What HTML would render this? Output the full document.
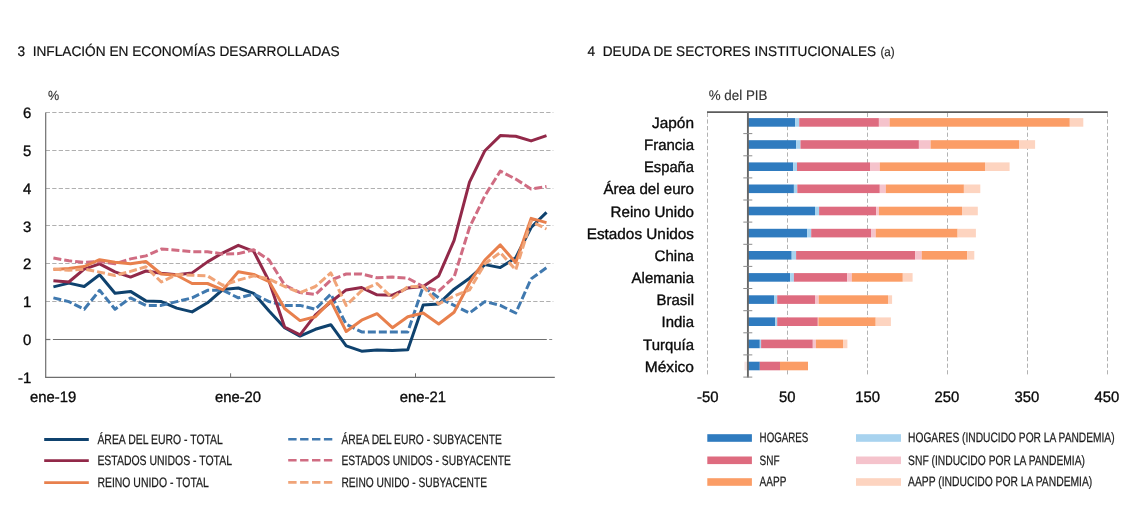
<!DOCTYPE html>
<html lang="es"><head><meta charset="utf-8"><title>Gráficos</title>
<style>
html,body{margin:0;padding:0;background:#fff;}
body{width:1143px;height:528px;overflow:hidden;font-family:"Liberation Sans",sans-serif;}
svg{display:block;will-change:transform;}
text{text-rendering:geometricPrecision;}
</style></head><body>
<svg width="1143" height="528" viewBox="0 0 1143 528" font-family="Liberation Sans, sans-serif">
<rect width="1143" height="528" fill="#fff"/>
<text x="17.5" y="56.3" font-size="14" fill="#111" stroke="#111" stroke-width="0.2" textLength="322" lengthAdjust="spacingAndGlyphs" xml:space="preserve">3  INFLACIÓN EN ECONOMÍAS DESARROLLADAS</text>
<text x="587.6" y="56.3" font-size="14" fill="#111" stroke="#111" stroke-width="0.2" textLength="288.6" lengthAdjust="spacingAndGlyphs" xml:space="preserve">4  DEUDA DE SECTORES INSTITUCIONALES</text>
<text x="880.5" y="56.3" font-size="12.6" fill="#222" stroke="#222" stroke-width="0.15" textLength="14.2" lengthAdjust="spacingAndGlyphs">(a)</text>
<text x="48" y="100.4" font-size="13.2" fill="#333" stroke="#333" stroke-width="0.15" textLength="11.2" lengthAdjust="spacingAndGlyphs">%</text>
<line x1="45.7" x2="553.3" y1="112.5" y2="112.5" stroke="#b0b0b0" stroke-width="1" stroke-dasharray="4.3 2.2"/>
<line x1="45.7" x2="553.3" y1="150.5" y2="150.5" stroke="#b0b0b0" stroke-width="1" stroke-dasharray="4.3 2.2"/>
<line x1="45.7" x2="553.3" y1="188.5" y2="188.5" stroke="#b0b0b0" stroke-width="1" stroke-dasharray="4.3 2.2"/>
<line x1="45.7" x2="553.3" y1="225.5" y2="225.5" stroke="#b0b0b0" stroke-width="1" stroke-dasharray="4.3 2.2"/>
<line x1="45.7" x2="553.3" y1="263.5" y2="263.5" stroke="#b0b0b0" stroke-width="1" stroke-dasharray="4.3 2.2"/>
<line x1="45.7" x2="553.3" y1="301.5" y2="301.5" stroke="#b0b0b0" stroke-width="1" stroke-dasharray="4.3 2.2"/>
<line x1="45.7" x2="50.4" y1="339.5" y2="339.5" stroke="#707070" stroke-width="1.2"/>
<line x1="52.9" x2="546.8" y1="339.5" y2="339.5" stroke="#707070" stroke-width="1.2"/>
<line x1="549.2" x2="552.2" y1="339.5" y2="339.5" stroke="#8a8a8a" stroke-width="1"/>
<line x1="45.7" x2="45.7" y1="112.5" y2="377.3" stroke="#6e6e6e" stroke-width="1.2"/>
<line x1="45.1" x2="554.8" y1="377.3" y2="377.3" stroke="#6e6e6e" stroke-width="1.2"/>
<line x1="230.6" x2="230.6" y1="373.3" y2="377.3" stroke="#6e6e6e" stroke-width="1"/>
<line x1="415.5" x2="415.5" y1="373.3" y2="377.3" stroke="#6e6e6e" stroke-width="1"/>
<text x="23.0" y="118.0" font-size="15.15" fill="#0a0a0a" stroke="#0a0a0a" stroke-width="0.35" textLength="8.3" lengthAdjust="spacingAndGlyphs">6</text>
<text x="23.0" y="155.8" font-size="15.15" fill="#0a0a0a" stroke="#0a0a0a" stroke-width="0.35" textLength="8.3" lengthAdjust="spacingAndGlyphs">5</text>
<text x="23.0" y="193.7" font-size="15.15" fill="#0a0a0a" stroke="#0a0a0a" stroke-width="0.35" textLength="8.3" lengthAdjust="spacingAndGlyphs">4</text>
<text x="23.0" y="231.5" font-size="15.15" fill="#0a0a0a" stroke="#0a0a0a" stroke-width="0.35" textLength="8.3" lengthAdjust="spacingAndGlyphs">3</text>
<text x="23.0" y="269.3" font-size="15.15" fill="#0a0a0a" stroke="#0a0a0a" stroke-width="0.35" textLength="8.3" lengthAdjust="spacingAndGlyphs">2</text>
<text x="23.0" y="307.1" font-size="15.15" fill="#0a0a0a" stroke="#0a0a0a" stroke-width="0.35" textLength="8.3" lengthAdjust="spacingAndGlyphs">1</text>
<text x="23.0" y="345.0" font-size="15.15" fill="#0a0a0a" stroke="#0a0a0a" stroke-width="0.35" textLength="8.3" lengthAdjust="spacingAndGlyphs">0</text>
<text x="18.1" y="382.8" font-size="15.15" fill="#0a0a0a" stroke="#0a0a0a" stroke-width="0.35" textLength="13.2" lengthAdjust="spacingAndGlyphs">-1</text>
<text x="30.0" y="401.8" font-size="15.15" fill="#0a0a0a" stroke="#0a0a0a" stroke-width="0.35" textLength="46.2" lengthAdjust="spacingAndGlyphs">ene-19</text>
<text x="214.9" y="401.8" font-size="15.15" fill="#0a0a0a" stroke="#0a0a0a" stroke-width="0.35" textLength="46.2" lengthAdjust="spacingAndGlyphs">ene-20</text>
<text x="399.8" y="401.8" font-size="15.15" fill="#0a0a0a" stroke="#0a0a0a" stroke-width="0.35" textLength="46.2" lengthAdjust="spacingAndGlyphs">ene-21</text>
<path d="M53.4,286.9 L68.8,283.1 L84.2,286.5 L99.6,274.8 L115.0,293.3 L130.5,291.4 L145.9,300.9 L161.3,301.6 L176.7,308.1 L192.1,311.9 L207.5,302.8 L222.9,289.5 L238.3,288.0 L253.7,293.3 L269.1,311.1 L284.6,327.7 L300.0,336.1 L315.4,329.3 L330.8,324.7 L346.2,345.9 L361.6,351.2 L377.0,350.1 L392.4,350.4 L407.8,349.7 L423.2,305.0 L438.7,303.9 L454.1,289.2 L469.5,278.2 L484.9,264.6 L500.3,267.6 L515.7,257.8 L531.1,227.5 L546.5,212.4" fill="none" stroke="#0F426E" stroke-width="3" stroke-linejoin="round" stroke-linecap="butt"/>
<path d="M53.4,297.9 L68.8,301.6 L84.2,309.2 L99.6,290.3 L115.0,309.2 L130.5,297.9 L145.9,305.4 L161.3,305.4 L176.7,301.6 L192.1,297.9 L207.5,290.3 L222.9,290.3 L238.3,297.9 L253.7,294.1 L269.1,301.6 L284.6,305.4 L300.0,305.4 L315.4,309.2 L330.8,294.1 L346.2,324.3 L361.6,331.9 L377.0,331.9 L392.4,331.9 L407.8,331.9 L423.2,286.5 L438.7,297.9 L454.1,305.4 L469.5,313.0 L484.9,301.6 L500.3,305.4 L515.7,313.0 L531.1,278.9 L546.5,267.6" fill="none" stroke="#4079AF" stroke-width="3" stroke-linejoin="round" stroke-linecap="butt" stroke-dasharray="8 3"/>
<path d="M53.4,280.8 L68.8,282.0 L84.2,269.1 L99.6,263.8 L115.0,271.8 L130.5,277.1 L145.9,271.0 L161.3,273.3 L176.7,274.8 L192.1,272.9 L207.5,261.9 L222.9,252.8 L238.3,245.3 L253.7,251.3 L269.1,281.2 L284.6,327.0 L300.0,334.9 L315.4,314.9 L330.8,302.0 L346.2,289.9 L361.6,287.6 L377.0,294.8 L392.4,295.2 L407.8,288.0 L423.2,286.5 L438.7,275.9 L454.1,240.4 L469.5,182.1 L484.9,150.7 L500.3,135.6 L515.7,136.3 L531.1,140.9 L546.5,135.6" fill="none" stroke="#922949" stroke-width="3" stroke-linejoin="round" stroke-linecap="butt"/>
<path d="M53.4,258.1 L68.8,260.8 L84.2,262.3 L99.6,261.5 L115.0,263.8 L130.5,258.9 L145.9,255.9 L161.3,249.1 L176.7,250.2 L192.1,251.7 L207.5,251.7 L222.9,254.0 L238.3,253.6 L253.7,249.8 L269.1,260.0 L284.6,285.0 L300.0,292.6 L315.4,294.5 L330.8,280.1 L346.2,274.0 L361.6,274.0 L377.0,277.8 L392.4,277.1 L407.8,278.2 L423.2,286.5 L438.7,291.1 L454.1,277.1 L469.5,227.5 L484.9,195.7 L500.3,171.1 L515.7,179.1 L531.1,188.9 L546.5,186.6" fill="none" stroke="#D06C82" stroke-width="3" stroke-linejoin="round" stroke-linecap="butt" stroke-dasharray="8 3"/>
<path d="M53.4,269.5 L68.8,268.4 L84.2,266.5 L99.6,259.7 L115.0,262.3 L130.5,263.8 L145.9,261.5 L161.3,274.0 L176.7,275.2 L192.1,283.5 L207.5,283.5 L222.9,289.9 L238.3,271.8 L253.7,274.4 L269.1,281.6 L284.6,308.5 L300.0,320.6 L315.4,316.8 L330.8,300.9 L346.2,331.5 L361.6,320.2 L377.0,313.7 L392.4,327.7 L407.8,316.8 L423.2,313.0 L438.7,324.0 L454.1,312.2 L469.5,282.7 L484.9,260.0 L500.3,244.9 L515.7,262.7 L531.1,218.4 L546.5,222.6" fill="none" stroke="#E8804D" stroke-width="3" stroke-linejoin="round" stroke-linecap="butt"/>
<path d="M53.4,269.1 L68.8,270.2 L84.2,269.1 L99.6,272.1 L115.0,275.5 L130.5,271.4 L145.9,266.8 L161.3,282.0 L176.7,274.4 L192.1,275.2 L207.5,275.9 L222.9,285.4 L238.3,280.1 L253.7,275.9 L269.1,278.9 L284.6,286.5 L300.0,292.6 L315.4,286.5 L330.8,272.9 L346.2,305.4 L361.6,290.7 L377.0,283.5 L392.4,297.9 L407.8,286.9 L423.2,286.5 L438.7,303.9 L454.1,296.0 L469.5,289.9 L484.9,263.8 L500.3,252.5 L515.7,269.9 L531.1,221.4 L546.5,229.0" fill="none" stroke="#F0A478" stroke-width="3" stroke-linejoin="round" stroke-linecap="butt" stroke-dasharray="8 3"/>
<line x1="44.2" x2="88.8" y1="439.5" y2="439.5" stroke="#0F426E" stroke-width="2.8"/>
<text x="97.4" y="443.8" font-size="13.6" fill="#1c1c1c" stroke="#1c1c1c" stroke-width="0.25" textLength="125.5" lengthAdjust="spacingAndGlyphs">ÁREA DEL EURO - TOTAL</text>
<line x1="44.2" x2="88.8" y1="460.6" y2="460.6" stroke="#922949" stroke-width="2.8"/>
<text x="97.4" y="465.4" font-size="13.6" fill="#1c1c1c" stroke="#1c1c1c" stroke-width="0.25" textLength="134.6" lengthAdjust="spacingAndGlyphs">ESTADOS UNIDOS - TOTAL</text>
<line x1="44.2" x2="88.8" y1="482.7" y2="482.7" stroke="#E8804D" stroke-width="2.8"/>
<text x="97.4" y="487.0" font-size="13.6" fill="#1c1c1c" stroke="#1c1c1c" stroke-width="0.25" textLength="111.4" lengthAdjust="spacingAndGlyphs">REINO UNIDO - TOTAL</text>
<line x1="288.2" x2="333" y1="439.2" y2="439.2" stroke="#4079AF" stroke-width="2.6" stroke-dasharray="8.4 3.5"/>
<text x="341.4" y="443.8" font-size="13.6" fill="#1c1c1c" stroke="#1c1c1c" stroke-width="0.25" textLength="160.4" lengthAdjust="spacingAndGlyphs">ÁREA DEL EURO - SUBYACENTE</text>
<line x1="288.2" x2="333" y1="460.3" y2="460.3" stroke="#D06C82" stroke-width="2.6" stroke-dasharray="8.4 3.5"/>
<text x="341.4" y="465.4" font-size="13.6" fill="#1c1c1c" stroke="#1c1c1c" stroke-width="0.25" textLength="169.5" lengthAdjust="spacingAndGlyphs">ESTADOS UNIDOS - SUBYACENTE</text>
<line x1="288.2" x2="333" y1="482.4" y2="482.4" stroke="#F0A478" stroke-width="2.6" stroke-dasharray="8.4 3.5"/>
<text x="341.4" y="487.0" font-size="13.6" fill="#1c1c1c" stroke="#1c1c1c" stroke-width="0.25" textLength="145.6" lengthAdjust="spacingAndGlyphs">REINO UNIDO - SUBYACENTE</text>
<text x="708.8" y="100.3" font-size="14" fill="#333" stroke="#333" stroke-width="0.15" textLength="58.6" lengthAdjust="spacingAndGlyphs">% del PIB</text>
<line x1="707.5" x2="707.5" y1="112.8" y2="376.8" stroke="#b2b2b2" stroke-width="1" stroke-dasharray="4.2 2.4"/>
<line x1="787.5" x2="787.5" y1="112.8" y2="376.8" stroke="#b2b2b2" stroke-width="1" stroke-dasharray="4.2 2.4"/>
<line x1="867.5" x2="867.5" y1="112.8" y2="376.8" stroke="#b2b2b2" stroke-width="1" stroke-dasharray="4.2 2.4"/>
<line x1="947.5" x2="947.5" y1="112.8" y2="376.8" stroke="#b2b2b2" stroke-width="1" stroke-dasharray="4.2 2.4"/>
<line x1="1027.5" x2="1027.5" y1="112.8" y2="376.8" stroke="#b2b2b2" stroke-width="1" stroke-dasharray="4.2 2.4"/>
<line x1="1107.5" x2="1107.5" y1="112.8" y2="376.8" stroke="#b2b2b2" stroke-width="1" stroke-dasharray="4.2 2.4"/>
<rect x="748.0" y="118.1" width="47.1" height="8.6" fill="#2F7BBF"/>
<rect x="795.1" y="118.1" width="4.1" height="8.6" fill="#A8D3EF"/>
<rect x="799.2" y="118.1" width="79.7" height="8.6" fill="#DE6B7F"/>
<rect x="878.9" y="118.1" width="10.7" height="8.6" fill="#F5C3CC"/>
<rect x="889.6" y="118.1" width="180.2" height="8.6" fill="#FB9D66"/>
<rect x="1069.8" y="118.1" width="13.5" height="8.6" fill="#FDD4C0"/>
<text x="652.0" y="128.0" font-size="15.15" fill="#0a0a0a" stroke="#0a0a0a" stroke-width="0.35" textLength="42.0" lengthAdjust="spacingAndGlyphs">Japón</text>
<rect x="748.0" y="140.2" width="48.1" height="8.6" fill="#2F7BBF"/>
<rect x="796.1" y="140.2" width="4.4" height="8.6" fill="#A8D3EF"/>
<rect x="800.5" y="140.2" width="118.4" height="8.6" fill="#DE6B7F"/>
<rect x="918.9" y="140.2" width="11.7" height="8.6" fill="#F5C3CC"/>
<rect x="930.6" y="140.2" width="88.4" height="8.6" fill="#FB9D66"/>
<rect x="1019.0" y="140.2" width="16.1" height="8.6" fill="#FDD4C0"/>
<text x="644.0" y="150.2" font-size="15.15" fill="#0a0a0a" stroke="#0a0a0a" stroke-width="0.35" textLength="50.0" lengthAdjust="spacingAndGlyphs">Francia</text>
<rect x="748.0" y="162.4" width="45.2" height="8.6" fill="#2F7BBF"/>
<rect x="793.2" y="162.4" width="3.8" height="8.6" fill="#A8D3EF"/>
<rect x="797.0" y="162.4" width="73.0" height="8.6" fill="#DE6B7F"/>
<rect x="870.0" y="162.4" width="9.8" height="8.6" fill="#F5C3CC"/>
<rect x="879.8" y="162.4" width="105.2" height="8.6" fill="#FB9D66"/>
<rect x="985.0" y="162.4" width="24.6" height="8.6" fill="#FDD4C0"/>
<text x="644.0" y="172.3" font-size="15.15" fill="#0a0a0a" stroke="#0a0a0a" stroke-width="0.35" textLength="50.0" lengthAdjust="spacingAndGlyphs">España</text>
<rect x="748.0" y="184.5" width="45.9" height="8.6" fill="#2F7BBF"/>
<rect x="793.9" y="184.5" width="3.4" height="8.6" fill="#A8D3EF"/>
<rect x="797.3" y="184.5" width="82.5" height="8.6" fill="#DE6B7F"/>
<rect x="879.8" y="184.5" width="6.0" height="8.6" fill="#F5C3CC"/>
<rect x="885.8" y="184.5" width="78.1" height="8.6" fill="#FB9D66"/>
<rect x="963.9" y="184.5" width="16.4" height="8.6" fill="#FDD4C0"/>
<text x="603.4" y="194.4" font-size="15.15" fill="#0a0a0a" stroke="#0a0a0a" stroke-width="0.35" textLength="90.6" lengthAdjust="spacingAndGlyphs">Área del euro</text>
<rect x="748.0" y="206.7" width="67.0" height="8.6" fill="#2F7BBF"/>
<rect x="815.0" y="206.7" width="4.1" height="8.6" fill="#A8D3EF"/>
<rect x="819.1" y="206.7" width="57.0" height="8.6" fill="#DE6B7F"/>
<rect x="876.1" y="206.7" width="2.8" height="8.6" fill="#F5C3CC"/>
<rect x="878.9" y="206.7" width="83.1" height="8.6" fill="#FB9D66"/>
<rect x="962.0" y="206.7" width="15.8" height="8.6" fill="#FDD4C0"/>
<text x="610.6" y="216.6" font-size="15.15" fill="#0a0a0a" stroke="#0a0a0a" stroke-width="0.35" textLength="83.4" lengthAdjust="spacingAndGlyphs">Reino Unido</text>
<rect x="748.0" y="228.8" width="59.1" height="8.6" fill="#2F7BBF"/>
<rect x="807.1" y="228.8" width="4.1" height="8.6" fill="#A8D3EF"/>
<rect x="811.2" y="228.8" width="59.8" height="8.6" fill="#DE6B7F"/>
<rect x="871.0" y="228.8" width="4.7" height="8.6" fill="#F5C3CC"/>
<rect x="875.7" y="228.8" width="81.9" height="8.6" fill="#FB9D66"/>
<rect x="957.6" y="228.8" width="18.3" height="8.6" fill="#FDD4C0"/>
<text x="586.7" y="238.8" font-size="15.15" fill="#0a0a0a" stroke="#0a0a0a" stroke-width="0.35" textLength="107.3" lengthAdjust="spacingAndGlyphs">Estados Unidos</text>
<rect x="748.0" y="251.0" width="43.7" height="8.6" fill="#2F7BBF"/>
<rect x="791.7" y="251.0" width="4.4" height="8.6" fill="#A8D3EF"/>
<rect x="796.1" y="251.0" width="119.0" height="8.6" fill="#DE6B7F"/>
<rect x="915.1" y="251.0" width="6.6" height="8.6" fill="#F5C3CC"/>
<rect x="921.7" y="251.0" width="45.4" height="8.6" fill="#FB9D66"/>
<rect x="967.1" y="251.0" width="7.2" height="8.6" fill="#FDD4C0"/>
<text x="654.6" y="260.9" font-size="15.15" fill="#0a0a0a" stroke="#0a0a0a" stroke-width="0.35" textLength="39.4" lengthAdjust="spacingAndGlyphs">China</text>
<rect x="748.0" y="273.1" width="42.1" height="8.6" fill="#2F7BBF"/>
<rect x="790.1" y="273.1" width="3.8" height="8.6" fill="#A8D3EF"/>
<rect x="793.9" y="273.1" width="53.2" height="8.6" fill="#DE6B7F"/>
<rect x="847.1" y="273.1" width="4.7" height="8.6" fill="#F5C3CC"/>
<rect x="851.8" y="273.1" width="51.0" height="8.6" fill="#FB9D66"/>
<rect x="902.8" y="273.1" width="9.8" height="8.6" fill="#FDD4C0"/>
<text x="631.6" y="283.1" font-size="15.15" fill="#0a0a0a" stroke="#0a0a0a" stroke-width="0.35" textLength="62.4" lengthAdjust="spacingAndGlyphs">Alemania</text>
<rect x="748.0" y="295.3" width="26.0" height="8.6" fill="#2F7BBF"/>
<rect x="774.0" y="295.3" width="3.2" height="8.6" fill="#A8D3EF"/>
<rect x="777.2" y="295.3" width="37.8" height="8.6" fill="#DE6B7F"/>
<rect x="815.0" y="295.3" width="3.7" height="8.6" fill="#F5C3CC"/>
<rect x="818.7" y="295.3" width="69.3" height="8.6" fill="#FB9D66"/>
<rect x="888.0" y="295.3" width="4.1" height="8.6" fill="#FDD4C0"/>
<text x="656.6" y="305.2" font-size="15.15" fill="#0a0a0a" stroke="#0a0a0a" stroke-width="0.35" textLength="37.4" lengthAdjust="spacingAndGlyphs">Brasil</text>
<rect x="748.0" y="317.4" width="27.3" height="8.6" fill="#2F7BBF"/>
<rect x="775.3" y="317.4" width="1.9" height="8.6" fill="#A8D3EF"/>
<rect x="777.2" y="317.4" width="40.6" height="8.6" fill="#DE6B7F"/>
<rect x="817.8" y="317.4" width="0.6" height="8.6" fill="#F5C3CC"/>
<rect x="818.4" y="317.4" width="57.3" height="8.6" fill="#FB9D66"/>
<rect x="875.7" y="317.4" width="15.2" height="8.6" fill="#FDD4C0"/>
<text x="661.6" y="327.4" font-size="15.15" fill="#0a0a0a" stroke="#0a0a0a" stroke-width="0.35" textLength="32.4" lengthAdjust="spacingAndGlyphs">India</text>
<rect x="748.0" y="339.6" width="11.8" height="8.6" fill="#2F7BBF"/>
<rect x="759.8" y="339.6" width="1.3" height="8.6" fill="#A8D3EF"/>
<rect x="761.1" y="339.6" width="51.7" height="8.6" fill="#DE6B7F"/>
<rect x="812.8" y="339.6" width="3.1" height="8.6" fill="#F5C3CC"/>
<rect x="815.9" y="339.6" width="27.1" height="8.6" fill="#FB9D66"/>
<rect x="843.0" y="339.6" width="4.4" height="8.6" fill="#FDD4C0"/>
<text x="643.1" y="349.5" font-size="15.15" fill="#0a0a0a" stroke="#0a0a0a" stroke-width="0.35" textLength="50.9" lengthAdjust="spacingAndGlyphs">Turquía</text>
<rect x="748.0" y="361.7" width="11.8" height="8.6" fill="#2F7BBF"/>
<rect x="759.8" y="361.7" width="20.2" height="8.6" fill="#DE6B7F"/>
<rect x="780.0" y="361.7" width="28.0" height="8.6" fill="#FB9D66"/>
<rect x="744.4" y="361.7" width="3.6" height="8.6" fill="#F7E4E2"/>
<text x="644.8" y="371.6" font-size="15.15" fill="#0a0a0a" stroke="#0a0a0a" stroke-width="0.35" textLength="49.2" lengthAdjust="spacingAndGlyphs">México</text>
<line x1="707.0" x2="1107.8" y1="112.1" y2="112.1" stroke="#5c5c5c" stroke-width="1.6"/>
<line x1="747.9" x2="747.9" y1="112.1" y2="377.5" stroke="#666" stroke-width="1.9"/>
<line x1="743.3" x2="752.3" y1="133.6" y2="133.6" stroke="#8c8c8c" stroke-width="1"/>
<line x1="743.3" x2="752.3" y1="155.8" y2="155.8" stroke="#8c8c8c" stroke-width="1"/>
<line x1="743.3" x2="752.3" y1="177.9" y2="177.9" stroke="#8c8c8c" stroke-width="1"/>
<line x1="743.3" x2="752.3" y1="200.0" y2="200.0" stroke="#8c8c8c" stroke-width="1"/>
<line x1="743.3" x2="752.3" y1="222.1" y2="222.1" stroke="#8c8c8c" stroke-width="1"/>
<line x1="743.3" x2="752.3" y1="244.3" y2="244.3" stroke="#8c8c8c" stroke-width="1"/>
<line x1="743.3" x2="752.3" y1="266.4" y2="266.4" stroke="#8c8c8c" stroke-width="1"/>
<line x1="743.3" x2="752.3" y1="288.5" y2="288.5" stroke="#8c8c8c" stroke-width="1"/>
<line x1="743.3" x2="752.3" y1="310.7" y2="310.7" stroke="#8c8c8c" stroke-width="1"/>
<line x1="743.3" x2="752.3" y1="332.8" y2="332.8" stroke="#8c8c8c" stroke-width="1"/>
<line x1="743.3" x2="752.3" y1="354.9" y2="354.9" stroke="#8c8c8c" stroke-width="1"/>
<line x1="743.3" x2="752.3" y1="377.1" y2="377.1" stroke="#8c8c8c" stroke-width="1"/>
<text x="697.1" y="401.8" font-size="15.15" fill="#0a0a0a" stroke="#0a0a0a" stroke-width="0.35" textLength="21.5" lengthAdjust="spacingAndGlyphs">-50</text>
<text x="779.0" y="401.8" font-size="15.15" fill="#0a0a0a" stroke="#0a0a0a" stroke-width="0.35" textLength="16.5" lengthAdjust="spacingAndGlyphs">50</text>
<text x="855.2" y="401.8" font-size="15.15" fill="#0a0a0a" stroke="#0a0a0a" stroke-width="0.35" textLength="24.8" lengthAdjust="spacingAndGlyphs">150</text>
<text x="934.6" y="401.8" font-size="15.15" fill="#0a0a0a" stroke="#0a0a0a" stroke-width="0.35" textLength="24.8" lengthAdjust="spacingAndGlyphs">250</text>
<text x="1014.6" y="401.8" font-size="15.15" fill="#0a0a0a" stroke="#0a0a0a" stroke-width="0.35" textLength="24.8" lengthAdjust="spacingAndGlyphs">350</text>
<text x="1094.4" y="401.8" font-size="15.15" fill="#0a0a0a" stroke="#0a0a0a" stroke-width="0.35" textLength="24.8" lengthAdjust="spacingAndGlyphs">450</text>
<rect x="707.3" y="434.2" width="44.6" height="7.6" fill="#2F7BBF"/>
<text x="759.6" y="442.4" font-size="13.6" fill="#1c1c1c" stroke="#1c1c1c" stroke-width="0.25" textLength="48.7" lengthAdjust="spacingAndGlyphs">HOGARES</text>
<rect x="707.3" y="456.5" width="44.6" height="7.6" fill="#DE6B7F"/>
<text x="759.6" y="464.6" font-size="13.6" fill="#1c1c1c" stroke="#1c1c1c" stroke-width="0.25" textLength="20.0" lengthAdjust="spacingAndGlyphs">SNF</text>
<rect x="707.3" y="478.2" width="44.6" height="7.6" fill="#FB9D66"/>
<text x="759.6" y="486.3" font-size="13.6" fill="#1c1c1c" stroke="#1c1c1c" stroke-width="0.25" textLength="26.8" lengthAdjust="spacingAndGlyphs">AAPP</text>
<rect x="856" y="434.2" width="45" height="7.6" fill="#A8D3EF"/>
<text x="908.1" y="442.4" font-size="13.6" fill="#1c1c1c" stroke="#1c1c1c" stroke-width="0.25" textLength="206.5" lengthAdjust="spacingAndGlyphs">HOGARES (INDUCIDO POR LA PANDEMIA)</text>
<rect x="856" y="456.5" width="45" height="7.6" fill="#F5C3CC"/>
<text x="908.1" y="464.6" font-size="13.6" fill="#1c1c1c" stroke="#1c1c1c" stroke-width="0.25" textLength="176.9" lengthAdjust="spacingAndGlyphs">SNF (INDUCIDO POR LA PANDEMIA)</text>
<rect x="856" y="478.2" width="45" height="7.6" fill="#FDD4C0"/>
<text x="908.1" y="486.3" font-size="13.6" fill="#1c1c1c" stroke="#1c1c1c" stroke-width="0.25" textLength="184.2" lengthAdjust="spacingAndGlyphs">AAPP (INDUCIDO POR LA PANDEMIA)</text>
</svg>
</body></html>
